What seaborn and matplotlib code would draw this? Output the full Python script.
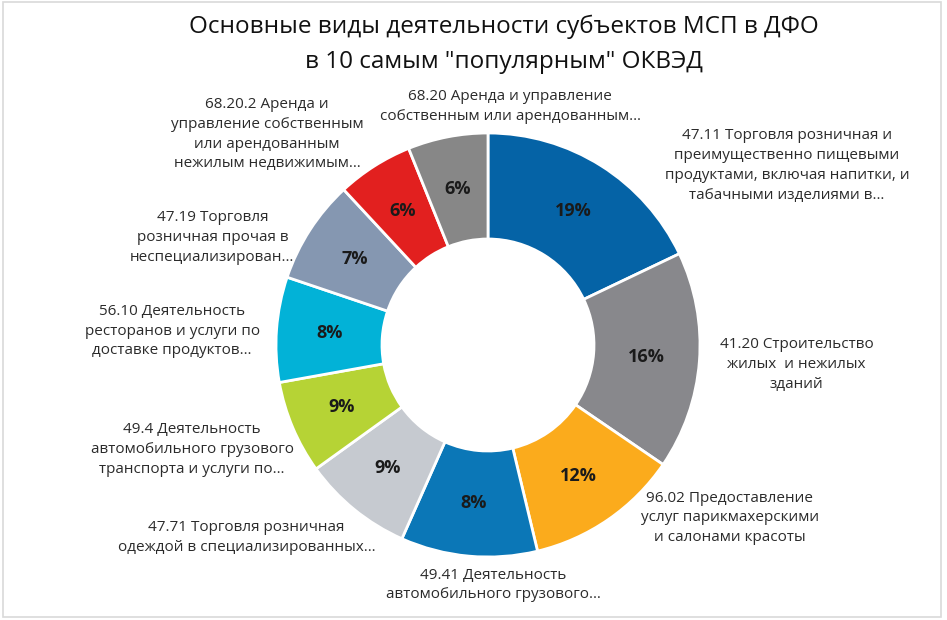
import matplotlib
matplotlib.use("Agg")
import matplotlib.pyplot as plt
import seaborn as sns
import numpy as np
from matplotlib.patches import Rectangle

# Данные (по часовой стрелке от 12 часов)
categories = [
    "47.11 Торговля розничная и\nпреимущественно пищевыми\nпродуктами, включая напитки, и\nтабачными изделиями в…",
    "41.20 Строительство\nжилых  и нежилых\nзданий",
    "96.02 Предоставление\nуслуг парикмахерскими\nи салонами красоты",
    "49.41 Деятельность\nавтомобильного грузового…",
    "47.71 Торговля розничная\nодеждой в специализированных…",
    "49.4 Деятельность\nавтомобильного грузового\nтранспорта и услуги по…",
    "56.10 Деятельность\nресторанов и услуги по\nдоставке продуктов…",
    "47.19 Торговля\nрозничная прочая в\nнеспециализирован…",
    "68.20.2 Аренда и\nуправление собственным\nили арендованным\nнежилым недвижимым…",
    "68.20 Аренда и управление\nсобственным или арендованным…",
]
# доли секторов, снятые по углам на картинке
shares = [17.9, 16.6, 11.7, 10.4, 8.4, 7.1, 8.0, 7.9, 5.8, 6.1]
# подписи процентов, как они напечатаны
pct_labels = ["19%", "16%", "12%", "8%", "9%", "9%", "8%", "7%", "6%", "6%"]

colors = ["#0563A6", "#88888C", "#FBAB1C", "#0B77B7", "#C6CAD0",
          "#B6D335", "#02B2D7", "#8597B1", "#E2201F", "#878787"]

# позиции внешних подписей (в радиусах кольца)
label_pos = [(1.41, 0.845), (1.455, -0.094), (1.14, -0.816), (0.024, -1.132),
             (-1.14, -0.906), (-1.396, -0.495), (-1.49, 0.066), (-1.30, 0.509),
             (-1.042, 0.995), (0.105, 1.127)]

title_lines = ["Основные виды деятельности субъектов МСП в ДФО",
               "в 10 самым \"популярным\" ОКВЭД"]

sns.set_theme(style="white")
plt.rcParams['font.family'] = ['Open Sans', 'DejaVu Sans']

W, H = 947, 620
fig = plt.figure(figsize=(W / 100, H / 100), dpi=100)
fig.patch.set_facecolor("white")

cx, cy, R = 488, 345, 212
ax = fig.add_axes([(cx - R) / W, (H - cy - R) / H, 2 * R / W, 2 * R / H])
wedges, _ = ax.pie(shares, colors=colors, startangle=90, counterclock=False,
                   radius=1, wedgeprops=dict(width=0.5, edgecolor="white", linewidth=2))
ax.set_xlim(-1, 1)
ax.set_ylim(-1, 1)
ax.axis("off")

for w, pct in zip(wedges, pct_labels):
    ang = np.deg2rad((w.theta1 + w.theta2) / 2)
    ax.text(0.75 * np.cos(ang), 0.75 * np.sin(ang), pct, ha="center", va="center",
            fontsize=13, fontweight="bold", color="#1a1a1a")

for (x, y), lab in zip(label_pos, categories):
    ax.text(x, y, lab, ha="center", va="center", multialignment="center",
            fontsize=11, color="#2b2b2b", linespacing=1.45, clip_on=False)

for i, line in enumerate(title_lines):
    fig.text(504 / W, 1 - (27 + 35 * i) / H, line, ha="center", va="center",
             fontsize=17.5, color="#111111")

fig.patches.append(Rectangle((3 / W, 3 / H), 938 / W, 615 / H, transform=fig.transFigure,
                             fill=False, edgecolor="#D9D9D9", linewidth=1.2))

fig.savefig("out.png", dpi=100)
